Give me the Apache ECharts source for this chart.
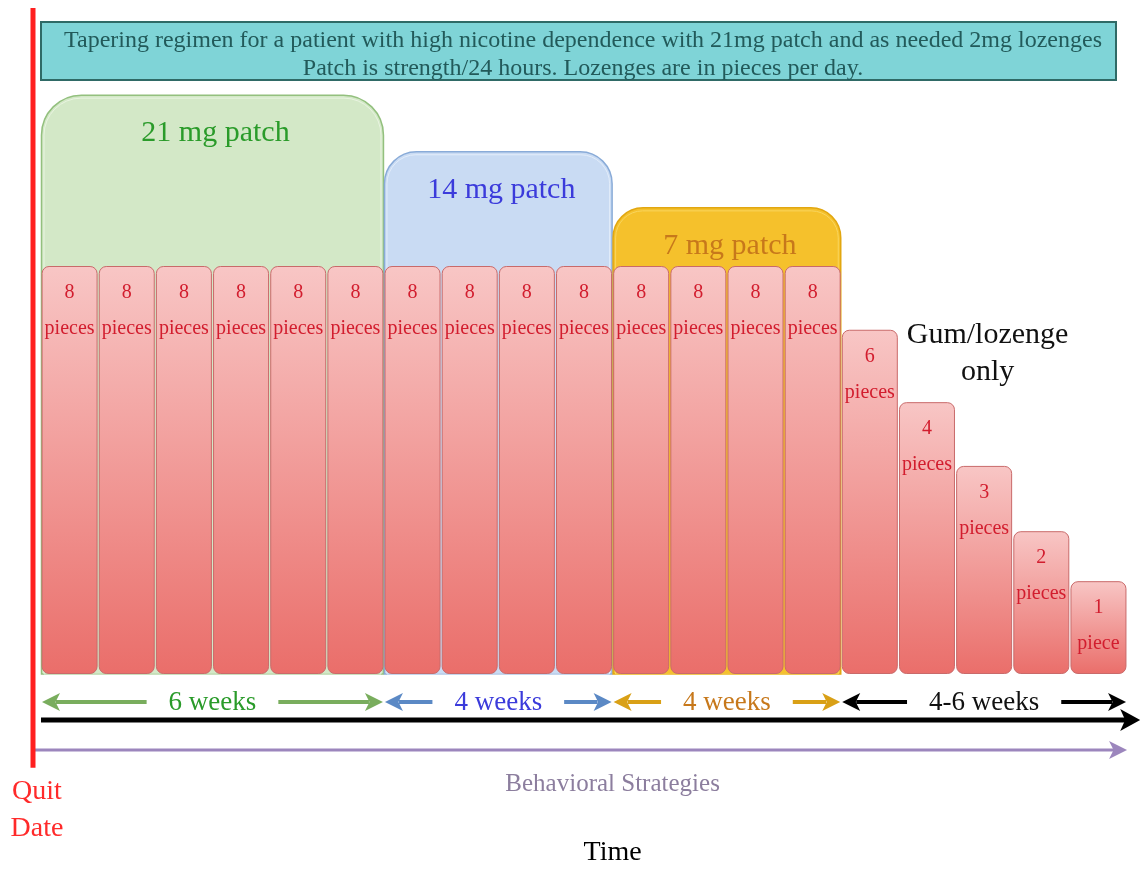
<!DOCTYPE html>
<html><head><meta charset="utf-8">
<script src="https://cdn.jsdelivr.net/npm/echarts@6/dist/echarts.min.js"></script>
<style>html,body{margin:0;padding:0;background:#fff}#c{width:1142px;height:873px}</style>
</head><body><div id="c"></div>
<script>
// ---------------- data ----------------
const titleLines = [
  'Tapering regimen for a patient with high nicotine dependence with 21mg patch and as needed 2mg lozenges',
  'Patch is strength/24 hours. Lozenges are in pieces per day.'
];
const phaseNames = ['21 mg patch', '14 mg patch', '7 mg patch', 'Gum/lozenge\nonly'];
const phaseWeeks = ['6 weeks', '4 weeks', '4 weeks', '4-6 weeks'];
const phaseBarCount = [6, 4, 4, 5];
const patchTop = [11.35, 10.24, 9.14, null];          // diagram units (not to scale)
const pieces = [8, 8, 8, 8, 8, 8, 8, 8, 8, 8, 8, 8, 8, 8, 6, 4, 3, 2, 1];
const barHeight = [8, 8, 8, 8, 8, 8, 8, 8, 8, 8, 8, 8, 8, 8, 6.75, 5.33, 4.08, 2.8, 1.82];
const quitLabel = 'Quit\nDate';
const behaviorLabel = 'Behavioral Strategies';
const timeLabel = 'Time';

// ---------------- styles / layout ----------------
const FONT = '"Liberation Serif", "Times New Roman", serif';
const phaseStyle = [
  { fill: '#d3e8c7', stroke: '#93c07e', inner: '#e9f4e1', text: '#2a9b2a', arrow: '#79ad5d', r: 40 },
  { fill: '#c9dbf3', stroke: '#89abd8', inner: '#e3edfa', text: '#3b3bdb', arrow: '#5b89c5', r: 32 },
  { fill: '#f5c12c', stroke: '#e2a710', inner: '#f9d55e', text: '#c7781b', arrow: '#d9a016', r: 30 },
  { text: '#111111', arrow: '#000000' }
];
const Y_WEEKS = -0.55, Y_TIME = -0.9, Y_BEH = -1.49, Y_BEH_TXT = -2.16, Y_TIME_TXT = -3.51;
const X_QUIT = -0.14, Y_QUIT_TOP = 13.06, Y_QUIT_BOT = -1.84;
const X_TIME_END = 19.23, X_TEXT_MID = 10;

const phaseStart = [];
phaseBarCount.reduce((acc, n, i) => { phaseStart[i] = acc; return acc + n; }, 0);

const measureCtx = document.createElement('canvas').getContext('2d');
function textW(t, size) { measureCtx.font = size + 'px ' + FONT; return measureCtx.measureText(t).width; }

function arrowHead(tipX, y, dir, len, half, color) {
  return { type: 'polygon', shape: { points: [[tipX, y], [tipX - dir * len, y - half], [tipX - dir * len * 0.75, y], [tipX - dir * len, y + half]] }, style: { fill: color } };
}

function renderPatch(params, api) {
  const i = api.value(3);
  const st = phaseStyle[i];
  const p0 = api.coord([api.value(0), 0]);
  const p1 = api.coord([api.value(1), api.value(2)]);
  const w = p1[0] - p0[0], h = p0[1] - p1[1];
  return { type: 'group', children: [
    { type: 'rect', shape: { x: p0[0] + 0.5, y: p1[1], width: w - 1, height: h, r: [st.r, st.r, 0, 0] },
      style: { fill: st.fill, stroke: st.stroke, lineWidth: 1.5 } },
    { type: 'rect', shape: { x: p0[0] + 3, y: p1[1] + 3, width: w - 6, height: h - 3, r: [st.r - 3, st.r - 3, 0, 0] },
      style: { fill: 'none', stroke: st.inner, lineWidth: 1 } },
    { type: 'text', style: { text: phaseNames[i], x: (p0[0] + p1[0]) / 2 + 3, y: p1[1] + 38, align: 'center', verticalAlign: 'middle',
      fill: st.text, fontSize: 30, fontFamily: FONT } }
  ] };
}

function renderWeeks(params, api) {
  const i = api.value(2);
  const st = phaseStyle[i];
  const a = api.coord([api.value(0), Y_WEEKS]);
  const b = api.coord([api.value(1), Y_WEEKS]);
  const y = a[1];
  const x0 = a[0] + 1, x1 = b[0] - 1, mid = (x0 + x1) / 2;
  const tw = textW(phaseWeeks[i], 27) / 2 + 22;
  const lw = 4, len = 18, half = 9;
  return { type: 'group', children: [
    { type: 'line', shape: { x1: x0 + len - 4, y1: y, x2: mid - tw, y2: y }, style: { stroke: st.arrow, lineWidth: lw } },
    { type: 'line', shape: { x1: mid + tw, y1: y, x2: x1 - len + 4, y2: y }, style: { stroke: st.arrow, lineWidth: lw } },
    arrowHead(x0, y, -1, len, half, st.arrow),
    arrowHead(x1, y, 1, len, half, st.arrow),
    { type: 'text', style: { text: phaseWeeks[i], x: mid, y: y + 1, align: 'center', verticalAlign: 'middle', fill: st.text, fontSize: 27, fontFamily: FONT } }
  ] };
}

function renderDecor(params, api) {
  const t0 = api.coord([0, Y_TIME]), t1 = api.coord([X_TIME_END, Y_TIME]);
  const b0 = api.coord([X_QUIT, Y_BEH]), b1 = api.coord([pieces.length, Y_BEH]);
  const q0 = api.coord([X_QUIT, Y_QUIT_TOP]), q1 = api.coord([X_QUIT, Y_QUIT_BOT]);
  const bt = api.coord([X_TEXT_MID, Y_BEH_TXT]), tt = api.coord([X_TEXT_MID, Y_TIME_TXT]);
  const qt = api.coord([X_QUIT + 0.07, Y_QUIT_BOT]);
  return { type: 'group', children: [
    { type: 'line', shape: { x1: t0[0], y1: t0[1], x2: t1[0] - 14, y2: t1[1] }, style: { stroke: '#000', lineWidth: 5 } },
    arrowHead(t1[0], t1[1], 1, 20, 11, '#000'),
    { type: 'line', shape: { x1: b0[0], y1: b0[1], x2: b1[0] - 12, y2: b1[1] }, style: { stroke: '#9c86bd', lineWidth: 3 } },
    arrowHead(b1[0], b1[1], 1, 18, 9, '#9c86bd'),
    { type: 'line', shape: { x1: q0[0], y1: q0[1], x2: q1[0], y2: q1[1] }, style: { stroke: '#ff1f1f', lineWidth: 5 } },
    { type: 'text', style: { text: quitLabel, x: qt[0], y: qt[1] + 5, align: 'center', verticalAlign: 'top', fill: '#ff2a2a',
      fontSize: 28, lineHeight: 37, fontFamily: FONT } },
    { type: 'text', style: { text: behaviorLabel, x: bt[0], y: bt[1], align: 'center', verticalAlign: 'middle', fill: '#8c7e9e', fontSize: 25, fontFamily: FONT } },
    { type: 'text', style: { text: timeLabel, x: tt[0], y: tt[1], align: 'center', verticalAlign: 'middle', fill: '#000', fontSize: 28, fontFamily: FONT } }
  ] };
}

const chart = echarts.init(document.getElementById('c'), null, { renderer: 'canvas' });
const lastPhase = phaseNames.length - 1;
chart.setOption({
  animation: false,
  backgroundColor: '#ffffff',
  grid: { left: 12.42, right: 0.67, top: 11, bottom: 15.4 },
  xAxis: { type: 'value', min: -0.5, max: 19.25, show: false },
  yAxis: { type: 'value', min: -3.6, max: 13, show: false },
  graphic: [
    { type: 'rect', z: 10, shape: { x: 41, y: 22, width: 1075, height: 58 }, style: { fill: '#7fd4d7', stroke: '#2f6a66', lineWidth: 2 } },
    { type: 'text', z: 11, style: { text: titleLines.join('\n'), x: 583, y: 55, align: 'center', verticalAlign: 'middle',
      fill: '#225a5a', fontSize: 24, lineHeight: 28, fontFamily: FONT } }
  ],
  series: [
    { type: 'custom', name: 'patch', z: 1, renderItem: renderPatch,
      data: patchTop.map((t, i) => t == null ? null : [phaseStart[i], phaseStart[i] + phaseBarCount[i], t, i]).filter(d => d) },
    { type: 'bar', name: 'lozenges', z: 3, barWidth: 56,
      data: barHeight.map((h, i) => [i + 0.5, h]),
      itemStyle: {
        borderRadius: 7, borderColor: '#c96a6a', borderWidth: 1,
        color: new echarts.graphic.LinearGradient(0, 0, 0, 1, [
          { offset: 0, color: '#f8c6c5' }, { offset: 1, color: '#ea6e6a' }])
      },
      label: { show: true, position: 'insideTop', distance: 9, color: '#d21d2e', fontFamily: FONT, fontSize: 20, lineHeight: 36,
        formatter: p => pieces[p.dataIndex] + '\n' + (pieces[p.dataIndex] === 1 ? 'piece' : 'pieces') }
    },
    { type: 'custom', name: 'weeks', z: 4, renderItem: renderWeeks,
      data: phaseWeeks.map((w, i) => [phaseStart[i], phaseStart[i] + phaseBarCount[i], i]) },
    { type: 'custom', name: 'decor', z: 5, renderItem: renderDecor, data: [[0, 0]] },
    { type: 'custom', name: 'gumLabel', z: 5,
      renderItem: (params, api) => {
        const p = api.coord([api.value(0), api.value(1)]);
        return { type: 'text', style: { text: phaseNames[lastPhase], x: p[0], y: p[1], align: 'center', verticalAlign: 'middle',
          fill: phaseStyle[lastPhase].text, fontSize: 30, lineHeight: 37, fontFamily: FONT } };
      },
      data: [[phaseStart[lastPhase] + phaseBarCount[lastPhase] / 2 + 0.06, 6.28]] }
  ]
});
</script></body></html>
